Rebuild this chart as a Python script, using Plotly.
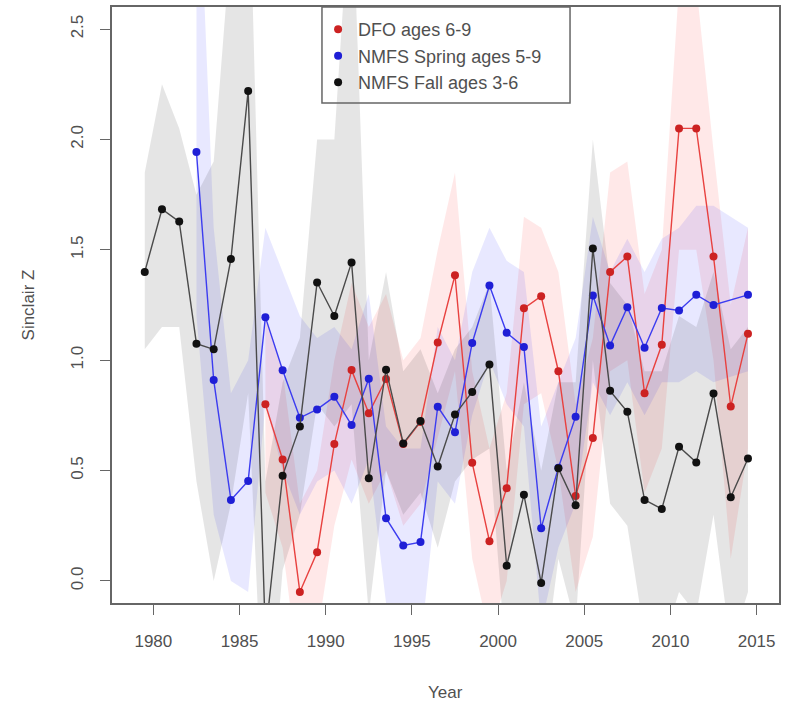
import plotly.graph_objects as go

# ---------------- data ----------------
years = list(range(1979, 2015))

dfo_z = [None] * 7 + [0.80, 0.55, -0.05, 0.13, 0.62, 0.955, 0.76, 0.915, 0.62, 0.72,
                      1.08, 1.385, 0.535, 0.18, 0.42, 1.235, 1.29, 0.95, 0.385, 0.648,
                      1.40, 1.47, 0.85, 1.07, 2.05, 2.05, 1.47, 0.79, 1.12]
dfo_lo = [None] * 7 + [0.40, 0.15, -0.45, -0.25, 0.25, 0.55, 0.35, 0.50, 0.25, 0.35,
                       0.65, 0.95, 0.10, -0.25, 0.00, 0.80, 0.85, 0.50, -0.05, 0.20,
                       0.95, 1.00, 0.40, 0.60, 1.50, 1.50, 1.00, 0.10, 0.60]
dfo_hi = [None] * 7 + [1.20, 0.95, 0.35, 0.50, 1.00, 1.35, 1.15, 1.30, 1.00, 1.10,
                       1.50, 1.85, 0.95, 0.60, 0.85, 1.65, 1.60, 1.40, 0.80, 1.10,
                       1.85, 1.90, 1.30, 1.50, 2.70, 2.70, 1.95, 1.25, 1.60]

spring_z = [None] * 3 + [1.943, 0.91, 0.367, 0.453, 1.195, 0.954, 0.739, 0.777, 0.834, 0.706,
                         0.916, 0.284, 0.161, 0.176, 0.789, 0.673, 1.078, 1.338, 1.124, 1.06,
                         0.239, 0.513, 0.744, 1.293, 1.067, 1.24, 1.056, 1.236, 1.225, 1.296,
                         1.25, None, 1.296]
spring_lo = [None] * 3 + [1.20, 0.30, 0.00, -0.05, 0.80, 0.50, 0.30, 0.45, 0.50, 0.35,
                          0.55, -0.10, -0.30, -0.30, 0.45, 0.35, 0.75, 1.00, 0.80, 0.70,
                          -0.20, 0.15, 0.35, 0.90, 0.75, 0.90, 0.75, 0.90, 0.90, 0.95,
                          0.90, None, 0.95]
spring_hi = [None] * 3 + [3.50, 1.60, 0.85, 1.00, 1.60, 1.40, 1.20, 1.10, 1.15, 1.05,
                          1.30, 0.70, 0.60, 0.60, 1.15, 1.00, 1.40, 1.60, 1.45, 1.40,
                          0.70, 0.90, 1.10, 1.65, 1.40, 1.55, 1.40, 1.55, 1.60, 1.70,
                          1.70, None, 1.60]

fall_z = [1.40, 1.684, 1.628, 1.075, 1.049, 1.458, 2.22, -0.25, 0.477, 0.70,
          1.352, 1.20, 1.443, 0.465, 0.957, 0.623, 0.724, 0.518, 0.754, 0.856,
          0.981, 0.069, 0.39, -0.009, 0.51, 0.343, 1.506, 0.861, 0.766, 0.367,
          0.326, 0.608, 0.537, 0.849, 0.379, 0.555]
fall_lo = [1.05, 1.15, 1.15, 0.45, 0.00, 0.35, 0.85, -0.90, 0.05, 0.30,
           0.80, 0.70, 0.80, -0.15, 0.50, 0.30, 0.40, 0.15, 0.45, 0.55,
           0.60, -0.40, -0.10, -0.50, 0.10, -0.20, 1.00, 0.35, 0.25, -0.25,
           -0.30, -0.05, -0.15, 0.30, -0.30, -0.05]
fall_hi = [1.85, 2.25, 2.05, 1.75, 1.90, 2.90, 3.40, 0.45, 0.90, 1.10,
           2.00, 2.00, 3.20, 1.00, 1.40, 0.95, 1.05, 0.85, 1.05, 1.15,
           1.35, 0.50, 0.90, 0.50, 0.90, 0.90, 2.00, 1.35, 1.25, 0.95,
           0.95, 1.20, 1.15, 1.40, 1.05, 1.15]

series_names = ["DFO ages 6-9", "NMFS Spring ages 5-9", "NMFS Fall ages 3-6"]
x_ticks = [1980, 1985, 1990, 1995, 2000, 2005, 2010, 2015]
y_ticks = [0.0, 0.5, 1.0, 1.5, 2.0, 2.5]

# ---------------- figure ----------------
x_mid = [y + 0.5 for y in years]

series = [
    (series_names[0], dfo_z, dfo_lo, dfo_hi, "rgba(255,0,0,0.09)", "#e8413f", "#cc2222"),
    (series_names[1], spring_z, spring_lo, spring_hi, "rgba(0,0,255,0.09)", "#3c3cf0", "#1f1fd6"),
    (series_names[2], fall_z, fall_lo, fall_hi, "rgba(0,0,0,0.10)", "#4a4a4a", "#111111"),
]

fig = go.Figure()

# confidence bands
for name, z, lo, hi, fillc, linec, markc in series:
    xs = [x for x, l in zip(x_mid, lo) if l is not None]
    los = [l for l in lo if l is not None]
    his = [h for h in hi if h is not None]
    fig.add_trace(go.Scatter(
        x=xs + xs[::-1], y=his + los[::-1], fill="toself", fillcolor=fillc,
        line=dict(width=0), mode="lines", hoverinfo="skip", showlegend=False))

# lines + points
for name, z, lo, hi, fillc, linec, markc in series:
    fig.add_trace(go.Scatter(
        x=x_mid, y=z, mode="lines+markers", connectgaps=True,
        line=dict(color=linec, width=1.4),
        marker=dict(color=markc, size=8),
        name=name, showlegend=False))

# legend keys
for name, z, lo, hi, fillc, linec, markc in series:
    fig.add_trace(go.Scatter(
        x=[None], y=[None], mode="markers", marker=dict(color=markc, size=8),
        name=name, showlegend=True, legendgroup=name))

axis_col = "#666666"
txt_col = "#505050"
font_fam = "Liberation Sans, Arial, sans-serif"

fig.update_layout(
    width=786, height=703,
    margin=dict(l=112, r=7, t=7, b=100, autoexpand=False),
    paper_bgcolor="white", plot_bgcolor="white",
    font=dict(family=font_fam, size=17, color=txt_col),
    showlegend=True,
    legend=dict(
        x=0.309, xanchor="left", y=0.993, yanchor="top",
        borderwidth=0, bgcolor="rgba(0,0,0,0)",
        font=dict(size=18, color=txt_col), tracegroupgap=0, itemwidth=30),
    shapes=[dict(type="rect", xref="paper", yref="paper",
                 x0=0.3148, x1=0.6867, y0=0.8389, y1=1.0,
                 line=dict(color=axis_col, width=1.5), fillcolor="rgba(0,0,0,0)")],
    xaxis=dict(
        range=[1977.6, 2016.3], tickvals=x_ticks, ticks="outside", ticklen=10,
        tickcolor=axis_col, showline=True, linecolor=axis_col, linewidth=1.5,
        mirror=True, showgrid=False, zeroline=False, ticklabelstandoff=12,
        automargin=False, tickfont=dict(size=17, color=txt_col)),
    yaxis=dict(
        range=[-0.1, 2.6], tickvals=y_ticks, ticktext=[f"{v:.1f}" for v in y_ticks],
        ticks="outside", ticklen=10, tickcolor=axis_col, showline=True,
        linecolor=axis_col, linewidth=1.5, mirror=True, showgrid=False,
        zeroline=False, tickangle=-90, ticklabelstandoff=10, automargin=False,
        tickfont=dict(size=17, color=txt_col)),
    annotations=[
        dict(text="Year", xref="paper", yref="paper", x=0.5, y=-0.169,
             showarrow=False, font=dict(size=17, color=txt_col)),
        dict(text="Sinclair Z", xref="paper", yref="paper", x=-0.1425, y=0.5,
             textangle=-90, showarrow=False, font=dict(size=17, color=txt_col)),
    ],
)

fig.write_html("out.html", config={"displayModeBar": False},
               post_script="document.body.style.margin='0';document.body.style.overflow='hidden';")
